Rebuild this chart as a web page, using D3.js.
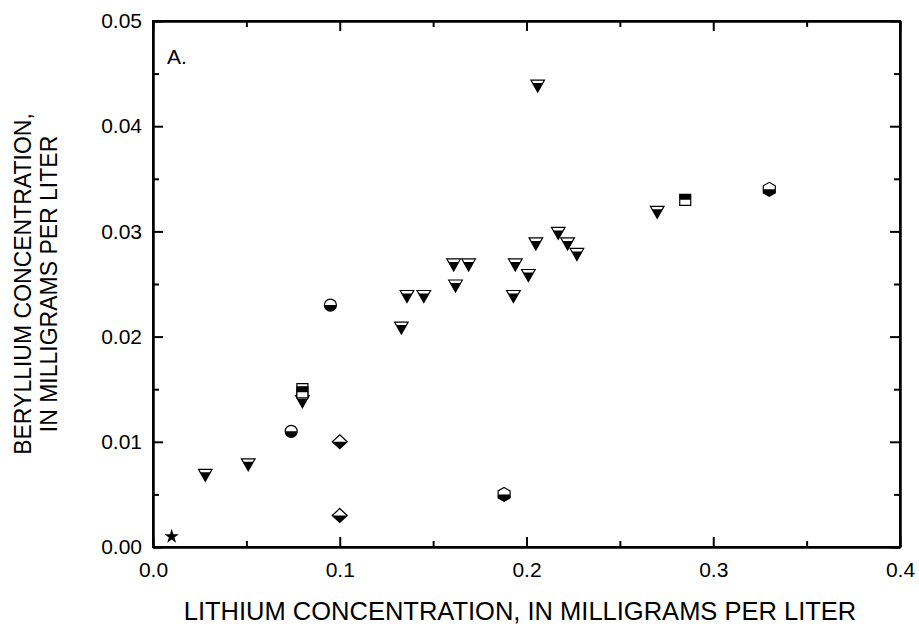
<!DOCTYPE html>
<html>
<head>
<meta charset="utf-8">
<script src="https://cdn.jsdelivr.net/npm/d3@7"></script>
<style>
  html, body { margin: 0; padding: 0; background: #fff; }
  svg { display: block; font-family: "Liberation Sans", Arial, sans-serif; }
</style>
</head>
<body>
<svg id="chart" width="919" height="628"></svg>
<script>
// ---- data (lithium mg/L, beryllium mg/L) ----
const triangleLi = [0.206, 0.270, 0.217, 0.205, 0.222, 0.227, 0.161, 0.169, 0.194, 0.201, 0.162, 0.136, 0.145, 0.193, 0.133, 0.080, 0.051, 0.028];
const triangleBe = [0.044, 0.032, 0.030, 0.029, 0.029, 0.028, 0.027, 0.027, 0.027, 0.026, 0.025, 0.024, 0.024, 0.024, 0.021, 0.014, 0.008, 0.007];
const circleLi = [0.095, 0.074];
const circleBe = [0.023, 0.011];
const squareTopWhiteLi = [0.080];
const squareTopWhiteBe = [0.0150];
const squareTopBlackLi = [0.080, 0.285];
const squareTopBlackBe = [0.0147, 0.033];
const diamondLi = [0.100, 0.100];
const diamondBe = [0.010, 0.003];
const hexagonLi = [0.330, 0.188];
const hexagonBe = [0.034, 0.005];
const starLi = [0.010];
const starBe = [0.001];

const xMajor = [0.0, 0.1, 0.2, 0.3, 0.4];
const xMinor = [0.05, 0.15, 0.25, 0.35];
const yMajor = [0.00, 0.01, 0.02, 0.03, 0.04, 0.05];
const yMinor = [0.005, 0.015, 0.025, 0.035, 0.045];

const xTitle = "LITHIUM CONCENTRATION, IN MILLIGRAMS PER LITER";
const yTitleLines = ["BERYLLIUM CONCENTRATION,", "IN MILLIGRAMS PER LITER"];
const panelLabel = "A.";

// ---- layout ----
const L = 153, R = 900, T = 21, B = 547;
const svg = d3.select("#chart");
const x = d3.scaleLinear().domain([0, 0.4]).range([L, R]);
const y = d3.scaleLinear().domain([0, 0.05]).range([B, T]);

const defs = svg.append("defs");
defs.append("clipPath").attr("id", "lowerHalf")
  .append("rect").attr("x", -20).attr("y", 0).attr("width", 40).attr("height", 20);
defs.append("clipPath").attr("id", "upperHalf")
  .append("rect").attr("x", -20).attr("y", -20).attr("width", 40).attr("height", 20);
defs.append("clipPath").attr("id", "triLower")
  .append("rect").attr("x", -20).attr("y", -1).attr("width", 40).attr("height", 20);

// ---- axes ----
function styleAxis(g) {
  g.select(".domain").attr("stroke", "#000").attr("stroke-width", 2);
  g.selectAll(".tick line").attr("stroke", "#000").attr("stroke-width", 2);
  g.selectAll(".tick text").attr("fill", "#000").attr("font-size", 21)
    .attr("font-family", "Liberation Sans, Arial, sans-serif");
}
// bottom
svg.append("g").attr("transform", `translate(0,${B})`)
  .call(d3.axisBottom(x).tickValues(xMinor).tickFormat("").tickSizeInner(-6).tickSizeOuter(0))
  .call(styleAxis);
svg.append("g").attr("transform", `translate(0,${B})`)
  .call(d3.axisBottom(x).tickValues(xMajor).tickFormat(d3.format(".1f")).tickSizeInner(-10).tickSizeOuter(0).tickPadding(15))
  .call(styleAxis);
// top
svg.append("g").attr("transform", `translate(0,${T})`)
  .call(d3.axisTop(x).tickValues(xMinor).tickFormat("").tickSizeInner(-6).tickSizeOuter(0))
  .call(styleAxis);
svg.append("g").attr("transform", `translate(0,${T})`)
  .call(d3.axisTop(x).tickValues(xMajor).tickFormat("").tickSizeInner(-10).tickSizeOuter(0))
  .call(styleAxis);
// left
svg.append("g").attr("transform", `translate(${L},0)`)
  .call(d3.axisLeft(y).tickValues(yMinor).tickFormat("").tickSizeInner(-6).tickSizeOuter(0))
  .call(styleAxis);
svg.append("g").attr("transform", `translate(${L},0)`)
  .call(d3.axisLeft(y).tickValues(yMajor).tickFormat(d3.format(".2f")).tickSizeInner(-10).tickSizeOuter(0).tickPadding(11))
  .call(styleAxis);
// right
svg.append("g").attr("transform", `translate(${R},0)`)
  .call(d3.axisRight(y).tickValues(yMinor).tickFormat("").tickSizeInner(-6).tickSizeOuter(0))
  .call(styleAxis);
svg.append("g").attr("transform", `translate(${R},0)`)
  .call(d3.axisRight(y).tickValues(yMajor).tickFormat("").tickSizeInner(-10).tickSizeOuter(0))
  .call(styleAxis);
// frame corners
svg.append("rect").attr("x", L).attr("y", T).attr("width", R - L).attr("height", B - T)
  .attr("fill", "none").attr("stroke", "#000").attr("stroke-width", 2);

// ---- titles ----
svg.append("text").attr("x", 520).attr("y", 620).attr("text-anchor", "middle")
  .attr("font-size", 25.5).attr("fill", "#000").text(xTitle);
const yc = (T + B) / 2;
yTitleLines.forEach((line, i) => {
  svg.append("text")
    .attr("transform", `translate(${31 + i * 26},${yc}) rotate(-90)`)
    .attr("text-anchor", "middle").attr("font-size", 23).attr("fill", "#000").text(line);
});
svg.append("text").attr("x", 167).attr("y", 64).attr("font-size", 21).attr("fill", "#000").text(panelLabel);

// ---- marker shapes (local coords, origin = data point) ----
const shapes = {
  triangle: "M-6.8,-4L6.8,-4L0,8Z",
  circle: "M-6,0A6,6 0 1,0 6,0A6,6 0 1,0 -6,0Z",
  square: "M-5.5,-5.5L5.5,-5.5L5.5,5.5L-5.5,5.5Z",
  diamond: "M0,-7L7.5,0L0,7L-7.5,0Z",
  hexagon: "M0,-7L6,-3.5L6,3.5L0,7L-6,3.5L-6,-3.5Z"
};

function halfMarkers(xs, ys, shape, clipId) {
  const g = svg.append("g");
  const pts = xs.map((v, i) => ({ li: v, be: ys[i] }));
  const m = g.selectAll("g.m").data(pts).join("g").attr("class", "m")
    .attr("transform", d => `translate(${x(d.li)},${y(d.be)})`);
  m.append("path").attr("d", shapes[shape]).attr("fill", "#fff");
  m.append("path").attr("d", shapes[shape]).attr("fill", "#000")
    .attr("clip-path", `url(#${clipId})`);
  m.append("path").attr("d", shapes[shape]).attr("fill", "none")
    .attr("stroke", "#000").attr("stroke-width", 1.2).attr("stroke-linejoin", "miter");
}

halfMarkers(triangleLi, triangleBe, "triangle", "triLower");
halfMarkers(circleLi, circleBe, "circle", "lowerHalf");
halfMarkers(diamondLi, diamondBe, "diamond", "lowerHalf");
halfMarkers(hexagonLi, hexagonBe, "hexagon", "lowerHalf");
halfMarkers(squareTopWhiteLi, squareTopWhiteBe, "square", "lowerHalf");
halfMarkers(squareTopBlackLi, squareTopBlackBe, "square", "upperHalf");

// star
svg.append("g").selectAll("path").data(starLi.map((v, i) => ({ li: v, be: starBe[i] })))
  .join("path")
  .attr("transform", d => `translate(${x(d.li)},${y(d.be)})`)
  .attr("d", d3.symbol(d3.symbolStar, 65)())
  .attr("fill", "#000");
</script>
</body>
</html>
